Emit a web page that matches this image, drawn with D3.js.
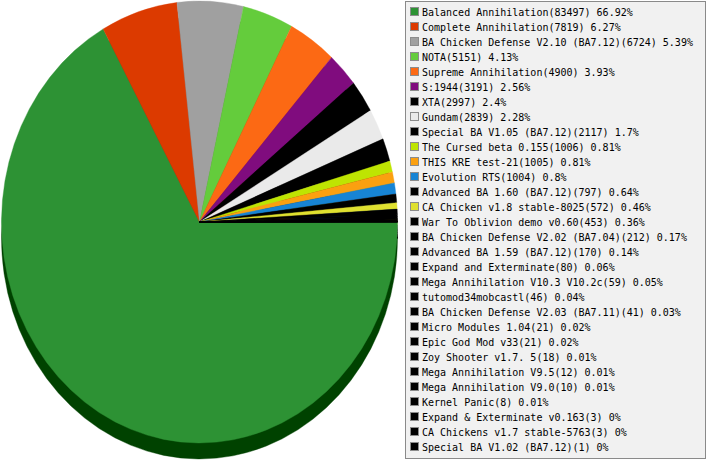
<!DOCTYPE html>
<html>
<head>
<meta charset="utf-8">
<script src="https://cdn.jsdelivr.net/npm/d3@7"></script>
<style>
  html, body { margin: 0; padding: 0; background: #ffffff; }
  svg { display: block; }
</style>
</head>
<body>
<svg id="chart" width="707" height="460"></svg>
<script>
// Games played per mod
const mods = [
  "Balanced Annihilation", "Complete Annihilation", "BA Chicken Defense V2.10 (BA7.12)",
  "NOTA", "Supreme Annihilation", "S:1944", "XTA", "Gundam",
  "Special BA V1.05 (BA7.12)", "The Cursed beta 0.155", "THIS KRE test-21", "Evolution RTS",
  "Advanced BA 1.60 (BA7.12)", "CA Chicken v1.8 stable-8025", "War To Oblivion demo v0.60",
  "BA Chicken Defense V2.02 (BA7.04)", "Advanced BA 1.59 (BA7.12)", "Expand and Exterminate",
  "Mega Annihilation V10.3 V10.2c", "tutomod34mobcastl", "BA Chicken Defense V2.03 (BA7.11)",
  "Micro Modules 1.04", "Epic God Mod v33", "Zoy Shooter v1.7. 5", "Mega Annihilation V9.5",
  "Mega Annihilation V9.0", "Kernel Panic", "Expand & Exterminate v0.163",
  "CA Chickens v1.7 stable-5763", "Special BA V1.02 (BA7.12)"
];
const games = [
  83497, 7819, 6724, 5151, 4900, 3191, 2997, 2839, 2117, 1006, 1005, 1004,
  797, 572, 453, 212, 170, 80, 59, 46, 41, 21, 21, 18, 12, 10, 8, 3, 3, 1
];
const percents = [
  "66.92", "6.27", "5.39", "4.13", "3.93", "2.56", "2.4", "2.28", "1.7", "0.81", "0.81", "0.8",
  "0.64", "0.46", "0.36", "0.17", "0.14", "0.06", "0.05", "0.04", "0.03", "0.02", "0.02", "0.01",
  "0.01", "0.01", "0.01", "0", "0", "0"
];
const colors = [
  "#2d9234", "#dc3a00", "#a0a0a0", "#64cc3c", "#fc6914", "#800c7e", "#000000", "#eaeaea",
  "#000000", "#bee402", "#fba010", "#1784d4", "#000000", "#dfe030", "#000000", "#000000",
  "#000000", "#000000", "#000000", "#000000", "#000000", "#000000", "#000000", "#000000",
  "#000000", "#000000", "#000000", "#000000", "#000000", "#000000"
];

const data = mods.map((m, i) => ({ name: m, value: games[i], pct: percents[i], color: colors[i] }));

const svg = d3.select("#chart");

// Elliptical pie with a dark extruded rim underneath
const cx = 199.5, cy = 222, rx = 198, ry = 221, depth = 16;

const pie = d3.pie()
  .sort(null)
  .value(d => d.value)
  .startAngle(Math.PI / 2)
  .endAngle(Math.PI / 2 + 2 * Math.PI);

const arc = d3.arc().innerRadius(0).outerRadius(ry);
const arcs = pie(data);

const shade = c => {
  const k = d3.rgb(c);
  return d3.rgb(Math.max(0, k.r - 80), Math.max(0, k.g - 80), Math.max(0, k.b - 80)).toString();
};

const rim = svg.append("g")
  .attr("transform", `translate(${cx},${cy + depth}) scale(${rx / ry},1)`);
rim.selectAll("path")
  .data(arcs)
  .join("path")
  .attr("d", arc)
  .attr("fill", d => shade(d.data.color))
  .attr("stroke", d => shade(d.data.color))
  .attr("stroke-width", 0.4);

const face = svg.append("g")
  .attr("transform", `translate(${cx},${cy}) scale(${rx / ry},1)`);
face.selectAll("path")
  .data(arcs)
  .join("path")
  .attr("d", arc)
  .attr("fill", d => d.data.color)
  .attr("stroke", d => d.data.color)
  .attr("stroke-width", 0.4);

// Legend box
const lx = 405.5, ly = 1.5, lw = 300, lh = 457, rowH = 15, row0 = 11.5;
svg.append("rect")
  .attr("x", lx).attr("y", ly).attr("width", lw).attr("height", lh)
  .attr("fill", "#f1f1f1").attr("stroke", "#8a8a8a").attr("stroke-width", 1);

const rowY = d3.scaleLinear().domain([0, 1]).range([row0, row0 + rowH]);

const items = svg.append("g").selectAll("g")
  .data(data)
  .join("g")
  .attr("transform", (d, i) => `translate(0,${rowY(i)})`);

items.append("rect")
  .attr("x", 410.5).attr("y", -4).attr("width", 8).attr("height", 8)
  .attr("fill", d => d.color)
  .attr("stroke", "#8c8c8c").attr("stroke-width", 1);

items.append("text")
  .attr("x", 422)
  .attr("y", 4)
  .attr("font-family", "'DejaVu Sans Mono', monospace")
  .attr("font-size", "10px")
  .attr("fill", "#000000")
  .text(d => `${d.name}(${d.value}) ${d.pct}%`);
</script>
</body>
</html>
